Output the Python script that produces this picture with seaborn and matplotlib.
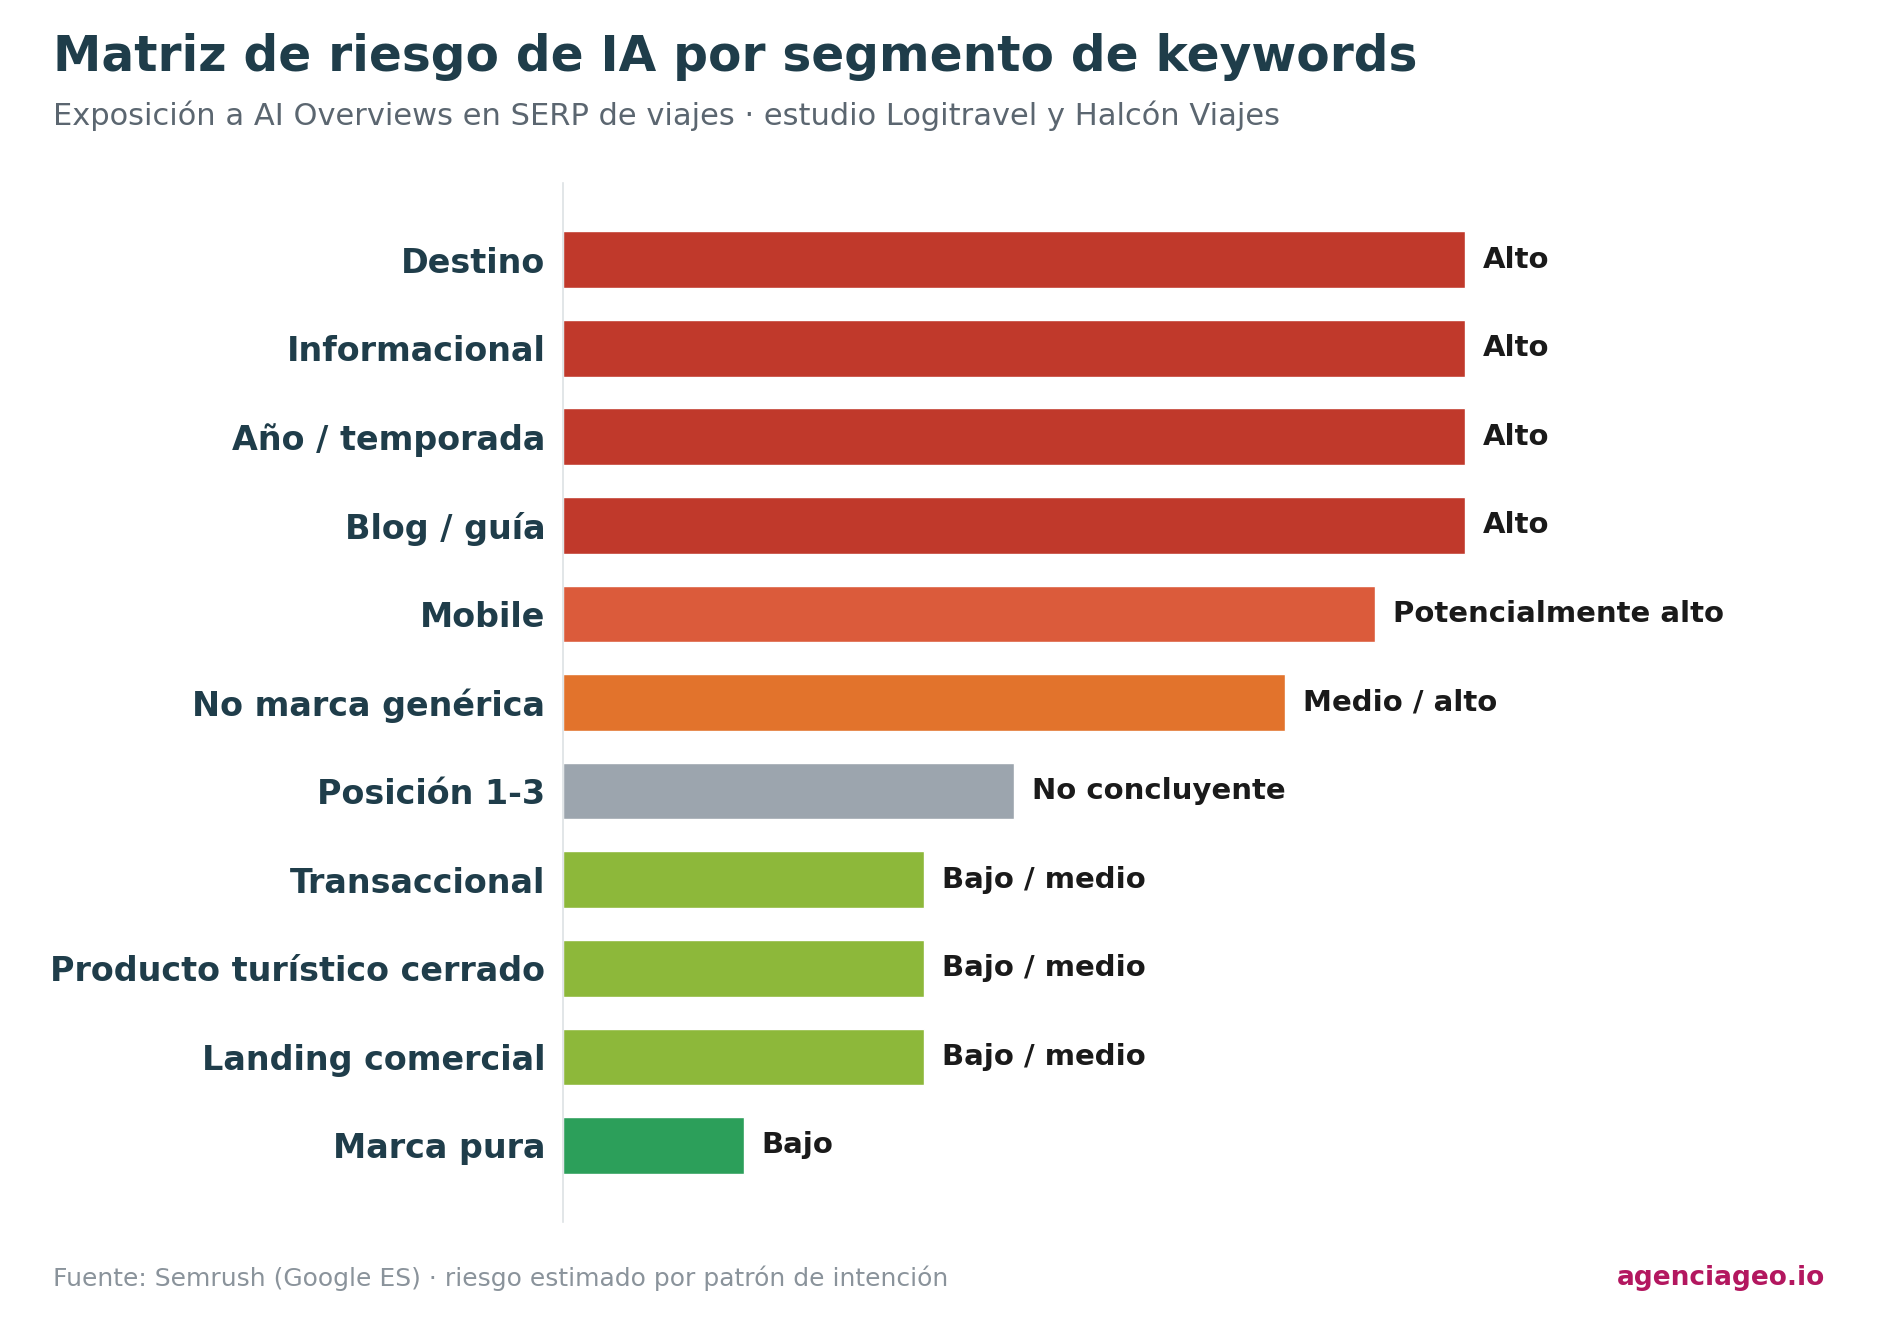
import pandas as pd
import matplotlib.pyplot as plt
import numpy as np
import seaborn as sns

# segmentos y riesgo estimado (escala 1-5)
segmentos = ["Destino", "Informacional", "Año / temporada", "Blog / guía", "Mobile",
             "No marca genérica", "Posición 1-3", "Transaccional",
             "Producto turístico cerrado", "Landing comercial", "Marca pura"]
riesgo = [5, 5, 5, 5, 4.5, 4, 2.5, 2, 2, 2, 1]
etiquetas = ["Alto", "Alto", "Alto", "Alto", "Potencialmente alto", "Medio / alto",
             "No concluyente", "Bajo / medio", "Bajo / medio", "Bajo / medio", "Bajo"]
colores = ["#c0392b", "#c0392b", "#c0392b", "#c0392b", "#db5b3b", "#e2732c",
           "#9ca5ae", "#8db83a", "#8db83a", "#8db83a", "#2c9f5a"]

data = pd.DataFrame({"segmento": segmentos, "riesgo": riesgo, "etiqueta": etiquetas})

sns.set_style("white")
plt.rcParams['font.family'] = ['DejaVu Sans']

fig = plt.figure(figsize=(18.8, 13.2), dpi=100)
ax = fig.add_axes([0.2997, 0.0745, 0.6713, 0.7865])

sns.barplot(data=data, x="riesgo", y="segmento", hue="segmento",
            palette=dict(zip(segmentos, colores)), legend=False,
            width=0.64, saturation=1, ax=ax)

for i, (v, t) in enumerate(zip(riesgo, etiquetas)):
    ax.text(v + 0.1, i, t, va="center", ha="left", fontsize=21,
            fontweight="bold", color="#1a1a1a")

ax.set_xlim(0, 7)
ax.set_ylim(10.86, -0.86)
ax.set_xlabel("")
ax.set_ylabel("")
ax.set_xticks([])
for s in ["top", "right", "bottom"]:
    ax.spines[s].set_visible(False)
ax.spines["left"].set_color("#dde1e4")
ax.spines["left"].set_linewidth(1.2)
ax.tick_params(axis="y", length=6, width=1.2, color="#222222", pad=7)
for lbl in ax.get_yticklabels():
    lbl.set_fontsize(24)
    lbl.set_fontweight("bold")
    lbl.set_color("#1f3d4a")

fig.text(0.028, 0.957, "Matriz de riesgo de IA por segmento de keywords",
         fontsize=35, fontweight="bold", color="#1f3d4a", va="center")
fig.text(0.028, 0.912, "Exposición a AI Overviews en SERP de viajes · estudio Logitravel y Halcón Viajes",
         fontsize=22, color="#5b6670", va="center")
fig.text(0.028, 0.032, "Fuente: Semrush (Google ES) · riesgo estimado por patrón de intención",
         fontsize=18, color="#8a939b", va="center")
fig.text(0.971, 0.032, "agenciageo.io", fontsize=19, fontweight="bold",
         color="#b3175f", va="center", ha="right")

fig.savefig("out.png", dpi=100)
